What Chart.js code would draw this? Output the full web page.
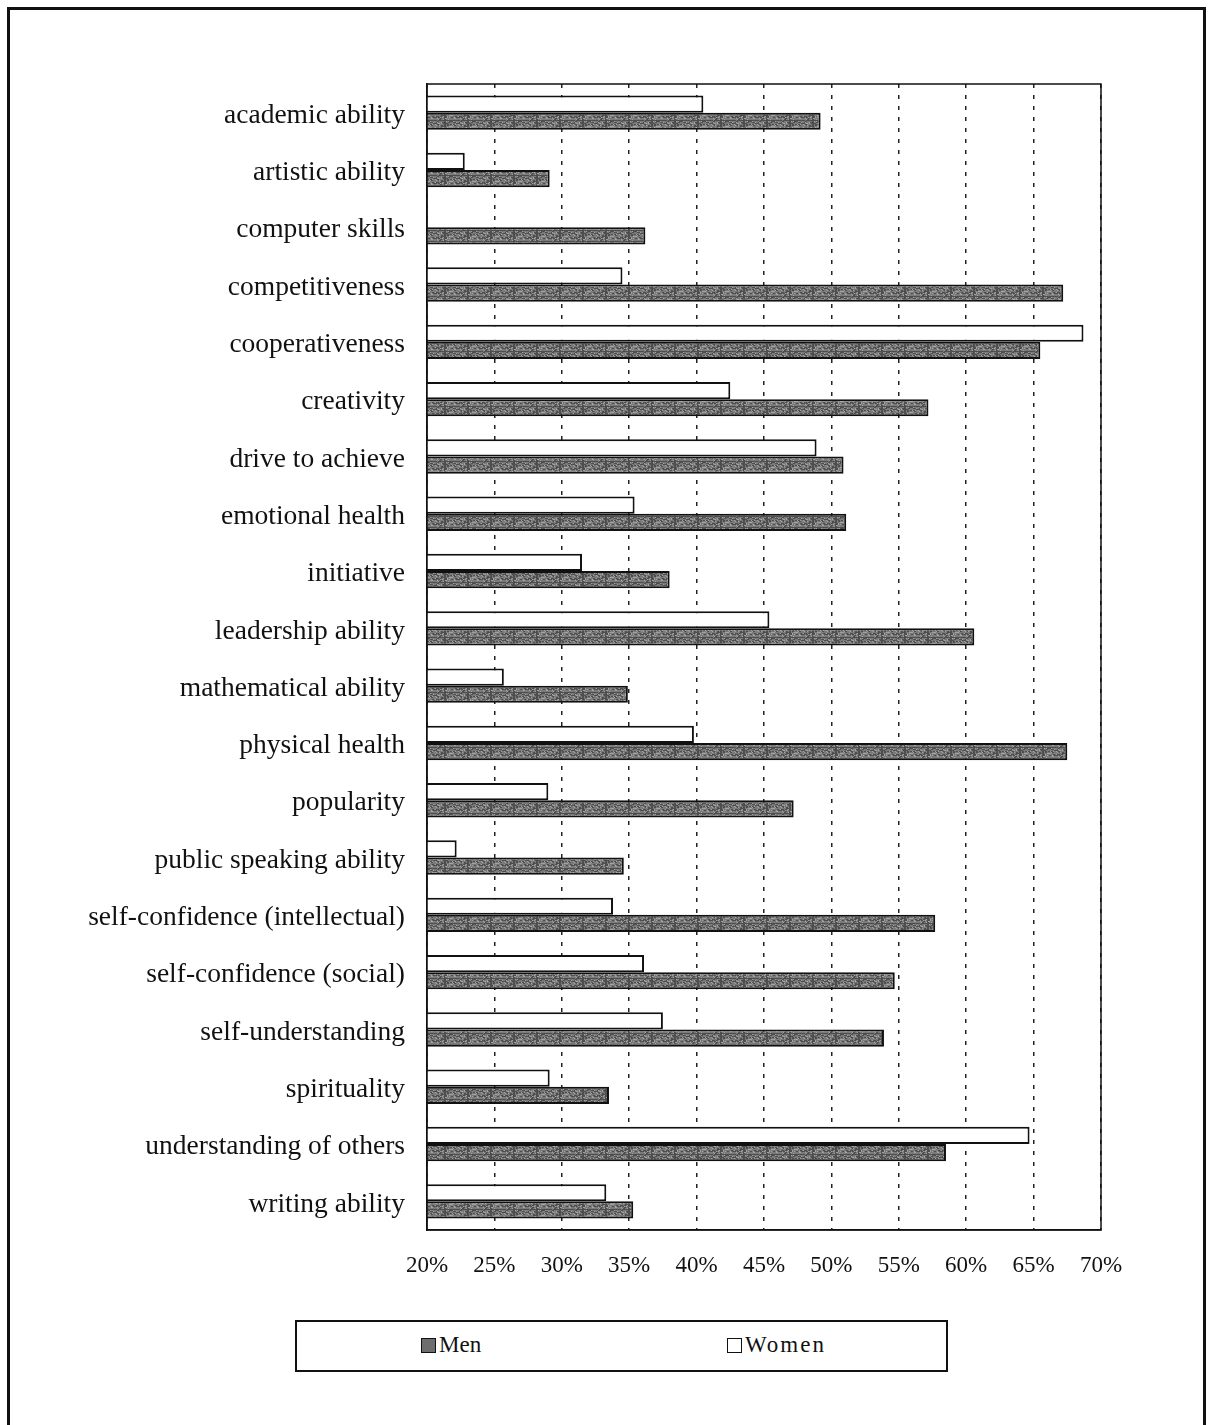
<!DOCTYPE html>
<html>
<head>
<meta charset="utf-8">
<script src="https://cdn.jsdelivr.net/npm/chart.js@4/dist/chart.umd.min.js"></script>
<style>
  html, body { margin: 0; padding: 0; background: #fff; overflow: hidden; }
  body { width: 1213px; height: 1425px; position: relative; font-family: "Liberation Serif", "Times New Roman", serif; }
  #frame { position: absolute; left: 7px; top: 7px; width: 1193px; height: 1460px; border: 3px solid #111; box-sizing: content-box; }
  #wrap { position: absolute; left: 0; top: 0; width: 1213px; height: 1425px; }
  #legend { position: absolute; left: 295px; top: 1320px; width: 649px; height: 48px; border: 2px solid #111; background: #fff; }
  .item { position: absolute; top: 10px; font-size: 23px; color: #111; display: flex; align-items: center; }
  .sw { width: 13px; height: 13px; border: 1.5px solid #111; margin-right: 3px; display: inline-block; }
</style>
</head>
<body>
<div id="frame"></div>
<div id="wrap"><canvas id="c" width="1213" height="1425"></canvas></div>
<div id="legend"></div>
<script>
const categories = [
  "academic ability", "artistic ability", "computer skills", "competitiveness",
  "cooperativeness", "creativity", "drive to achieve", "emotional health",
  "initiative", "leadership ability", "mathematical ability", "physical health",
  "popularity", "public speaking ability", "self-confidence (intellectual)",
  "self-confidence (social)", "self-understanding", "spirituality",
  "understanding of others", "writing ability"
];
const menValues = [49.2, 29.1, 36.2, 67.2, 65.5, 57.2, 50.9, 51.1, 38.0, 60.6,
                   34.9, 67.5, 47.2, 34.6, 57.7, 54.7, 53.9, 33.5, 58.5, 35.3];
const womenValues = [40.5, 22.8, null, 34.5, 68.7, 42.5, 48.9, 35.4, 31.5, 45.4,
                     25.7, 39.8, 29.0, 22.2, 33.8, 36.1, 37.5, 29.1, 64.7, 33.3];
const xTicks = [20, 25, 30, 35, 40, 45, 50, 55, 60, 65, 70];
const seriesNames = ["Men", "Women"];

// deterministic mottled gray texture for the Men bars
function makePattern() {
  const p = document.createElement('canvas');
  p.width = 23; p.height = 11;
  const g = p.getContext('2d');
  g.fillStyle = '#7a7a7a';
  g.fillRect(0, 0, 23, 11);
  for (let y = 0; y < 11; y++) {
    for (let x = 0; x < 23; x++) {
      const h = (x * 17 + y * 29 + x * y * 7 + (x >> 2) * 3) % 13;
      if (h === 0 || h === 5 || h === 9) { g.fillStyle = '#4e4e4e'; g.fillRect(x, y, 2, 1); }
      else if (h === 3 || h === 11) { g.fillStyle = '#a2a2a2'; g.fillRect(x, y, 1, 1); }
    }
  }
  return document.getElementById('c').getContext('2d').createPattern(p, 'repeat');
}
const menFill = makePattern();

const frameBox = {
  id: 'frameBox',
  afterDatasetsDraw(chart) {
    const a = chart.chartArea, ctx = chart.ctx;
    ctx.save();
    ctx.strokeStyle = '#111';
    ctx.lineWidth = 1.5;
    ctx.setLineDash([]);
    ctx.strokeRect(a.left, a.top, a.right - a.left, a.bottom - a.top);
    ctx.restore();
  }
};

const serif = "'Liberation Serif', 'Times New Roman', serif";

new Chart(document.getElementById('c'), {
  type: 'bar',
  data: {
    labels: categories,
    datasets: [
      { label: seriesNames[1], data: womenValues, backgroundColor: '#ffffff', borderColor: '#111', borderWidth: 2, borderSkipped: false },
      { label: seriesNames[0], data: menValues, backgroundColor: menFill, borderColor: '#111', borderWidth: 2, borderSkipped: false }
    ]
  },
  options: {
    indexAxis: 'y',
    responsive: false,
    animation: false,
    maintainAspectRatio: false,
    layout: { padding: { top: 84, right: 112, bottom: 115, left: 0 } },
    datasets: { bar: { categoryPercentage: 0.6, barPercentage: 1.0 } },
    plugins: { legend: { display: false }, tooltip: { enabled: false } },
    scales: {
      x: {
        type: 'linear', min: 20, max: 70,
        afterBuildTicks(scale) { scale.ticks = xTicks.map(v => ({ value: v })); },
        afterFit(scale) { scale.height = 80; },
        ticks: { callback: v => v + '%', font: { family: serif, size: 23 }, color: '#111', padding: 22, maxRotation: 0 },
        grid: { color: '#222', lineWidth: 1.5, drawTicks: false },
        border: { display: true, color: '#111', width: 1.5, dash: [4, 7] }
      },
      y: {
        afterFit(scale) { scale.width = 427; },
        ticks: { font: { family: serif, size: 27.5 }, color: '#111', padding: 22, labelOffset: 3 },
        grid: { display: false, drawTicks: false },
        border: { display: true, color: '#111', width: 1.5 }
      }
    }
  },
  plugins: [frameBox]
});

// legend (Men first, Women second)
const legend = document.getElementById('legend');
const items = [
  { name: seriesNames[0], left: 124, fill: '#6e6e6e', spacing: 0 },
  { name: seriesNames[1], left: 430, fill: '#ffffff', spacing: 2 }
];
items.forEach(it => {
  const d = document.createElement('div');
  d.className = 'item';
  d.style.left = it.left + 'px';
  const s = document.createElement('span');
  s.className = 'sw';
  s.style.background = it.fill;
  const t = document.createElement('span');
  t.textContent = it.name;
  t.style.letterSpacing = it.spacing + 'px';
  d.appendChild(s); d.appendChild(t);
  legend.appendChild(d);
});
</script>
</body>
</html>
